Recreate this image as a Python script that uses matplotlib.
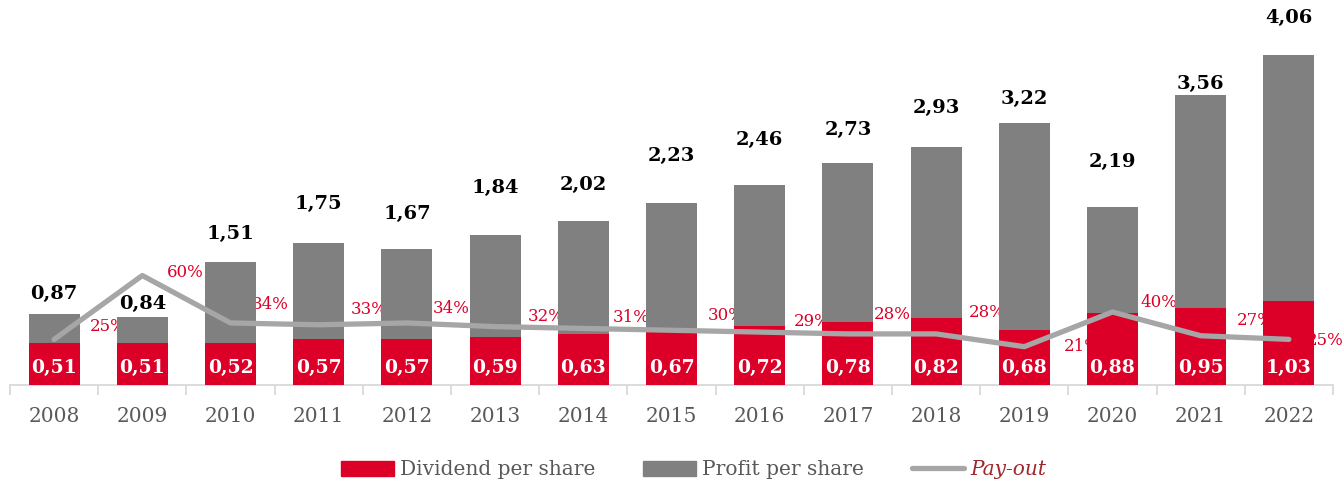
import matplotlib.pyplot as plt
from matplotlib.patches import Patch
from matplotlib.lines import Line2D

years = ["2008", "2009", "2010", "2011", "2012", "2013", "2014", "2015",
         "2016", "2017", "2018", "2019", "2020", "2021", "2022"]
profit = [0.87, 0.84, 1.51, 1.75, 1.67, 1.84, 2.02, 2.23, 2.46, 2.73,
          2.93, 3.22, 2.19, 3.56, 4.06]
dividend = [0.51, 0.51, 0.52, 0.57, 0.57, 0.59, 0.63, 0.67, 0.72, 0.78,
            0.82, 0.68, 0.88, 0.95, 1.03]
payout = [25, 60, 34, 33, 34, 32, 31, 30, 29, 28, 28, 21, 40, 27, 25]

RED = "#dc0028"
GREY = "#808080"
LINE = "#a6a6a6"
TXT = "#595959"

# hand placed labels in the original (pixel offsets)
pct_offsets = [(54, 13), (43, 3), (40, 18), (50, 15), (44, 14), (51, 10),
               (48, 11), (55, 15), (52, 11), (44, 19), (51, 21), (58, 0),
               (46, 10), (55, 15), (36, -1)]
profit_offsets = [20, 13, 28, 39, 35, 47, 36, 48, 45, 33, 39, 24, 45, 11, 37]

fig = plt.figure(figsize=(13.42, 4.83), dpi=100)
ax = fig.add_axes([10 / 1342, 98 / 483, 1323 / 1342, 385 / 483])
x = list(range(len(years)))

ax.bar(x, profit, width=0.58, color=GREY, zorder=2)
ax.bar(x, dividend, width=0.58, color=RED, zorder=3)

for i in x:
    ax.annotate(f"{profit[i]:.2f}".replace(".", ","), (i, profit[i]),
                xytext=(0, profit_offsets[i]), textcoords="offset pixels",
                ha="center", va="center", fontsize=14, fontweight="bold",
                color="black", family="DejaVu Serif")
    ax.annotate(f"{dividend[i]:.2f}".replace(".", ","), (i, 0),
                xytext=(0, 17), textcoords="offset pixels", ha="center",
                va="center", fontsize=13.5, fontweight="bold", color="white",
                family="DejaVu Serif", zorder=4)

ax.set_xlim(-0.5, len(years) - 0.5)
ax.set_ylim(0, 4.73)

# pct labels sit under the bars
ax2 = ax.twinx()
ax2.set_ylim(0, 211)
for i in x:
    ax2.annotate(f"{payout[i]}%", (i, payout[i]), xytext=pct_offsets[i],
                 textcoords="offset pixels", ha="center", va="center",
                 fontsize=12, color=RED, family="DejaVu Serif")

for a in (ax, ax2):
    for s in ["top", "right", "left"]:
        a.spines[s].set_visible(False)
    a.set_yticks([])
ax2.spines["bottom"].set_visible(False)
ax.spines["bottom"].set_color("#d9d9d9")
ax.spines["bottom"].set_linewidth(1.3)
ax.patch.set_visible(False)

ax.set_xticks(x)
ax.set_xticklabels(years, fontsize=14.5, color=TXT, family="DejaVu Serif")
ax.tick_params(axis="x", length=0, pad=16)
ax.set_xticks([i - 0.5 for i in range(len(years) + 1)], minor=True)
ax.tick_params(axis="x", which="minor", length=7, color="#d9d9d9", width=1.3)

ax2.set_zorder(0)
ax.set_zorder(1)

# pay-out line goes on top of the bars
line_ax = fig.add_axes(ax.get_position(), sharex=ax)
line_ax.set_ylim(0, 211)
line_ax.plot(x, payout, color=LINE, lw=3.8, solid_capstyle="round",
             solid_joinstyle="round")
line_ax.axis("off")
line_ax.set_zorder(2)

handles = [Patch(color=RED), Patch(color=GREY),
           Line2D([0], [0], color=LINE, lw=3.8, solid_capstyle="round")]
leg = fig.legend(handles, ["Dividend per share", "Profit per share", "Pay-out"],
                 loc="center", bbox_to_anchor=(0.517, 0.027), ncol=3,
                 frameon=False, handlelength=2.6, handleheight=0.8,
                 columnspacing=2.4, handletextpad=0.3,
                 prop={"family": "DejaVu Serif", "size": 14.5})
for t in leg.get_texts():
    t.set_color(TXT)
leg.get_texts()[2].set_color("#a0282d")
leg.get_texts()[2].set_fontstyle("italic")

fig.savefig("out.png", dpi=100)
